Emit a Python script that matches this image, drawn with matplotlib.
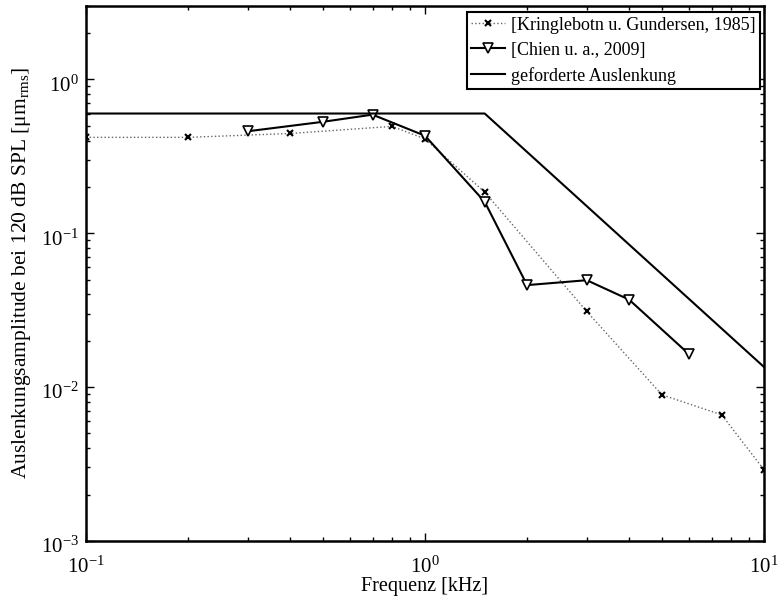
import numpy as np
import matplotlib
matplotlib.use('Agg')
import matplotlib.pyplot as plt
from matplotlib.transforms import ScaledTranslation

plt.rcParams['font.family'] = ['Liberation Serif', 'DejaVu Serif']
plt.rcParams['mathtext.fontset'] = 'custom'
plt.rcParams['mathtext.rm'] = 'Liberation Serif'
plt.rcParams['mathtext.it'] = 'Liberation Serif:italic'

# Kringlebotn u. Gundersen, 1985
f_kring = [0.1, 0.2, 0.4, 0.8, 1.0, 1.5, 3.0, 5.0, 7.5, 10.0]
a_kring = [0.42, 0.42, 0.445, 0.495, 0.41, 0.185, 0.031, 0.0089, 0.0066, 0.0029]

# Chien u. a., 2009
f_chien = [0.3, 0.5, 0.7, 1.0, 1.5, 2.0, 3.0, 4.0, 6.0]
a_chien = [0.46, 0.53, 0.59, 0.43, 0.16, 0.046, 0.0495, 0.037, 0.0164]

# geforderte Auslenkung
f_req = [0.1, 1.5, 10.0]
a_req = [0.6, 0.6, 0.0135]

fig = plt.figure(figsize=(7.82, 5.99), dpi=100)
ax = fig.add_axes([0.110, 0.097, 0.867, 0.893])

ax.loglog(f_kring, a_kring, linestyle=':', color='0.4', linewidth=1.0,
          marker='x', markersize=4, markeredgewidth=1.5, markeredgecolor='black',
          label='[Kringlebotn u. Gundersen, 1985]')
ax.loglog(f_chien, a_chien, linestyle='-', color='black', linewidth=1.5,
          marker='v', markersize=6.5, markerfacecolor='white', markeredgewidth=1.2,
          label='[Chien u. a., 2009]')
ax.loglog(f_req, a_req, linestyle='-', color='black', linewidth=1.5,
          label='geforderte Auslenkung')

ax.set_xlim(0.1, 10)
ax.set_ylim(1e-3, 3)

ax.set_xlabel('Frequenz [kHz]', fontsize=14.5, labelpad=0)
ax.set_ylabel('Auslenkungsamplitude bei 120 dB SPL [μm$_{\\mathrm{rms}}$]', fontsize=15.5, labelpad=6)

ax.tick_params(which='both', direction='in', top=True, right=True, labelsize=15)
ax.tick_params(which='major', length=6, width=1)
ax.tick_params(which='minor', length=3, width=1)
ax.tick_params(axis='x', which='major', pad=11)
ax.tick_params(axis='y', which='major', pad=5)
for s in ax.spines.values():
    s.set_linewidth(1.8)

# shift y tick labels so the "10" sits on the tick like the original
for t in ax.yaxis.get_major_ticks():
    t.label1.set_transform(t.label1.get_transform() +
                           ScaledTranslation(0, -4 / 100, fig.dpi_scale_trans))

leg = ax.legend(loc='upper right', bbox_to_anchor=(760 / 782, 1 - 12 / 599),
                bbox_transform=fig.transFigure, fontsize=13, fancybox=False,
                framealpha=1, edgecolor='black', borderpad=0.25, labelspacing=0.45,
                handlelength=1.9, handletextpad=0.3, borderaxespad=0)
leg.get_frame().set_linewidth(1.5)

fig.savefig('out.png', dpi=100)
